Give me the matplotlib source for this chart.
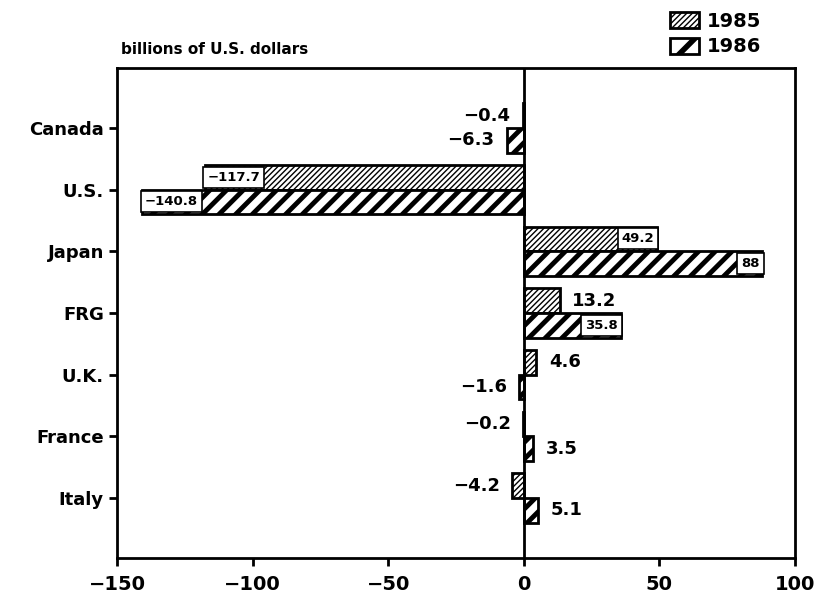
import numpy as np
import matplotlib.pyplot as plt
from matplotlib.patches import Patch

countries = ["Canada", "U.S.", "Japan", "FRG", "U.K.", "France", "Italy"]
vals_1985 = [-0.4, -117.7, 49.2, 13.2, 4.6, -0.2, -4.2]
vals_1986 = [-6.3, -140.8, 88, 35.8, -1.6, 3.5, 5.1]
# which labels sit inside the bar (boxed) instead of beside it
inside_1985 = [False, True, True, False, False, False, False]
inside_1986 = [False, True, True, True, False, False, False]
xticks = [-150, -100, -50, 0, 50, 100]

plt.rcParams["font.family"] = "DejaVu Sans"
plt.rcParams["font.weight"] = "bold"

fig = plt.figure(figsize=(8.15, 5.98), dpi=100)
ax = fig.add_axes([0.1436, 0.0669, 0.8319, 0.8194])

y = np.arange(len(countries))
h = 0.4
HATCH_85, HATCH_86 = "//////", "//"

b85 = ax.barh(y - h / 2, vals_1985, height=h, color="white", edgecolor="black",
              linewidth=2, hatch=HATCH_85)
b86 = ax.barh(y + h / 2, vals_1986, height=h, color="white", edgecolor="black",
              linewidth=2, hatch=HATCH_86)
for p in b85:
    if hasattr(p, "set_hatch_linewidth"):
        p.set_hatch_linewidth(1.0)
for p in b86:
    if hasattr(p, "set_hatch_linewidth"):
        p.set_hatch_linewidth(3.5)


def label(val, yy, inside):
    txt = f"{val:g}".replace("-", "\u2212")
    if inside:
        off = -2 if val > 0 else 2
        ax.annotate(txt, (val, yy), xytext=(off, 0), textcoords="offset points",
                    ha="right" if val > 0 else "left", va="center",
                    fontsize=9.5, fontweight="bold",
                    bbox=dict(boxstyle="square,pad=0.3", fc="white", ec="black", lw=1.2))
    else:
        off = 9 if val > 0 else -9
        ax.annotate(txt, (val, yy), xytext=(off, 0), textcoords="offset points",
                    ha="left" if val > 0 else "right", va="center",
                    fontsize=13, fontweight="bold")


for i in range(len(countries)):
    label(vals_1985[i], y[i] - h / 2, inside_1985[i])
    label(vals_1986[i], y[i] + h / 2, inside_1986[i])

ax.axvline(0, color="black", lw=2)
ax.set_xlim(-150, 100)
ax.set_ylim(len(countries) - 1 + 0.97, -0.97)
ax.set_xticks(xticks)
ax.set_xticklabels([str(t).replace("-", "\u2212") for t in xticks], fontsize=14,
                   fontweight="bold")
ax.set_yticks(y)
ax.set_yticklabels(countries, fontsize=13, fontweight="bold")
ax.tick_params(axis="both", direction="out", length=6, width=2)
ax.tick_params(axis="x", pad=6)
for s in ax.spines.values():
    s.set_linewidth(2)

fig.text(0.148, 0.905, "billions of U.S. dollars", fontsize=11, fontweight="bold",
         va="bottom", ha="left")

handles = [Patch(facecolor="white", edgecolor="black", hatch=HATCH_85, lw=2, label="1985"),
           Patch(facecolor="white", edgecolor="black", hatch="/", lw=2, label="1986")]
leg = fig.legend(handles=handles, loc="upper left", bbox_to_anchor=(0.8, 1.01),
                 frameon=False, handlelength=1.5, handleheight=0.9,
                 handletextpad=0.4, labelspacing=0.35, prop={"weight": "bold", "size": 14})
for p in leg.get_patches():
    if hasattr(p, "set_hatch_linewidth"):
        p.set_hatch_linewidth(1.0 if p.get_hatch() == HATCH_85 else 4)

fig.savefig("out.png", dpi=100)
